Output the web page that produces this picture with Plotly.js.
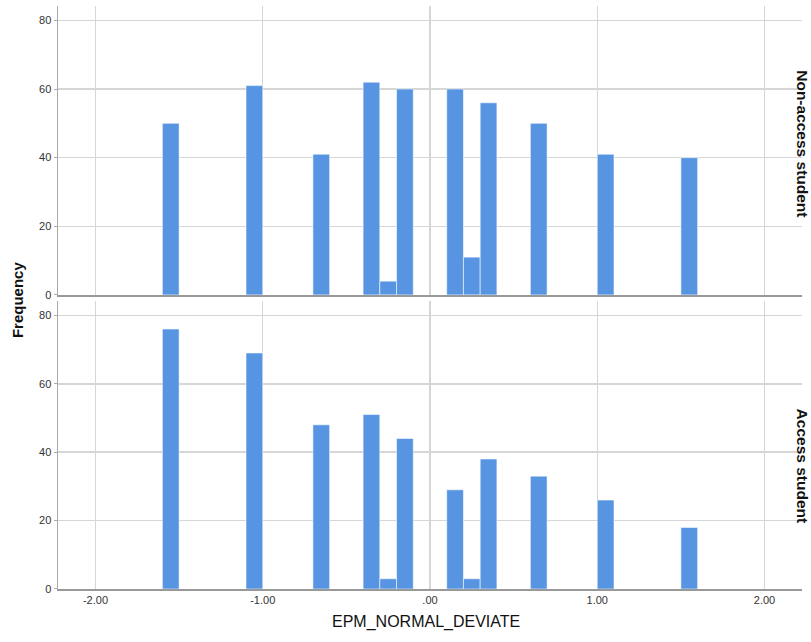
<!DOCTYPE html>
<html>
<head>
<meta charset="utf-8">
<script src="https://cdn.plot.ly/plotly-3.0.1.min.js"></script>
<style>html,body{margin:0;padding:0;background:#fff}#chart{width:811px;height:642px}</style>
</head>
<body>
<div id="chart"></div>
<script>
// Bin centers (bin width 0.1) of EPM_NORMAL_DEVIATE
var binCenters = [-1.55, -1.05, -0.65, -0.35, -0.25, -0.15, 0.15, 0.25, 0.35, 0.65, 1.05, 1.55];
var binWidth = 0.1;
var nonAccessFreq = [50, 61, 41, 62, 4, 60, 60, 11, 56, 50, 41, 40];
var accessFreq    = [76, 69, 48, 51, 3, 44, 29, 3, 38, 33, 26, 18];
var panelLabels = ["Non-access student", "Access student"];
var xTickVals = [-2, -1, 0, 1, 2];
var xTickText = ["-2.00", "-1.00", ".00", "1.00", "2.00"];
var yTickVals = [0, 20, 40, 60, 80];

var barColor = "#5795e3";
var widths = binCenters.map(function(){ return binWidth; });

var traces = [
  {type: "bar", x: binCenters, y: nonAccessFreq, width: widths, xaxis: "x2", yaxis: "y2",
   marker: {color: barColor, line: {color: "rgba(255,255,255,0.55)", width: 1}}, hoverinfo: "x+y"},
  {type: "bar", x: binCenters, y: accessFreq, width: widths, xaxis: "x", yaxis: "y",
   marker: {color: barColor, line: {color: "rgba(255,255,255,0.55)", width: 1}}, hoverinfo: "x+y"}
];

var font = {family: "Arial, 'Liberation Sans', sans-serif", size: 11, color: "#333"};
var xr = [-2.224, 2.224];
var yr = [0, 84.2];
var gridc = "#d6d6d6";

var xCommon = {range: xr, tickvals: xTickVals, ticktext: xTickText, showgrid: true, gridcolor: gridc, gridwidth: 1.5,
  zeroline: false, showline: true, linecolor: "#999", linewidth: 2, ticks: "", fixedrange: true};
var yCommon = {range: yr, tickvals: yTickVals, showgrid: true, gridcolor: gridc, gridwidth: 1.5, zeroline: false,
  showline: true, linecolor: "#aaa", linewidth: 1.5, ticks: "outside", ticklen: 3, tickcolor: "#aaa", fixedrange: true,
  tickfont: {size: 11, color: "#333"}};

var layout = {
  width: 811, height: 642,
  margin: {l: 58, r: 9, t: 6, b: 53},
  paper_bgcolor: "#fff", plot_bgcolor: "#fff",
  font: font, showlegend: false, bargap: 0,
  xaxis: Object.assign({}, xCommon, {anchor: "y", tickfont: {size: 11, color: "#333"}}),
  yaxis: Object.assign({}, yCommon, {domain: [0, 0.494], anchor: "x"}),
  xaxis2: Object.assign({}, xCommon, {anchor: "y2", matches: "x", showticklabels: false}),
  yaxis2: Object.assign({}, yCommon, {domain: [0.5045, 1], anchor: "x2"}),
  annotations: [
    {text: "Frequency", xref: "paper", yref: "paper", x: -0.055, y: 0.4957, xanchor: "center", yanchor: "middle",
     textangle: -90, showarrow: false, font: {size: 15, color: "#111", family: "Arial, 'Liberation Sans', sans-serif", weight: "bold"}},
    {text: "EPM_NORMAL_DEVIATE", xref: "paper", yref: "paper", x: 0.494, y: -0.0566, xanchor: "center", yanchor: "middle",
     showarrow: false, font: {size: 16, color: "#111", family: "Arial, 'Liberation Sans', sans-serif"}},
    {text: panelLabels[0], xref: "paper", yref: "paper", x: 1.0005, y: 0.764, xanchor: "center", yanchor: "middle",
     textangle: 90, showarrow: false, font: {size: 15.5, color: "#111", family: "Arial, 'Liberation Sans', sans-serif", weight: "bold"}},
    {text: panelLabels[1], xref: "paper", yref: "paper", x: 1.0005, y: 0.2110, xanchor: "center", yanchor: "middle",
     textangle: 90, showarrow: false, font: {size: 15.5, color: "#111", family: "Arial, 'Liberation Sans', sans-serif", weight: "bold"}}
  ]
};

Plotly.newPlot("chart", traces, layout, {displayModeBar: false, staticPlot: true});
</script>
</body>
</html>
